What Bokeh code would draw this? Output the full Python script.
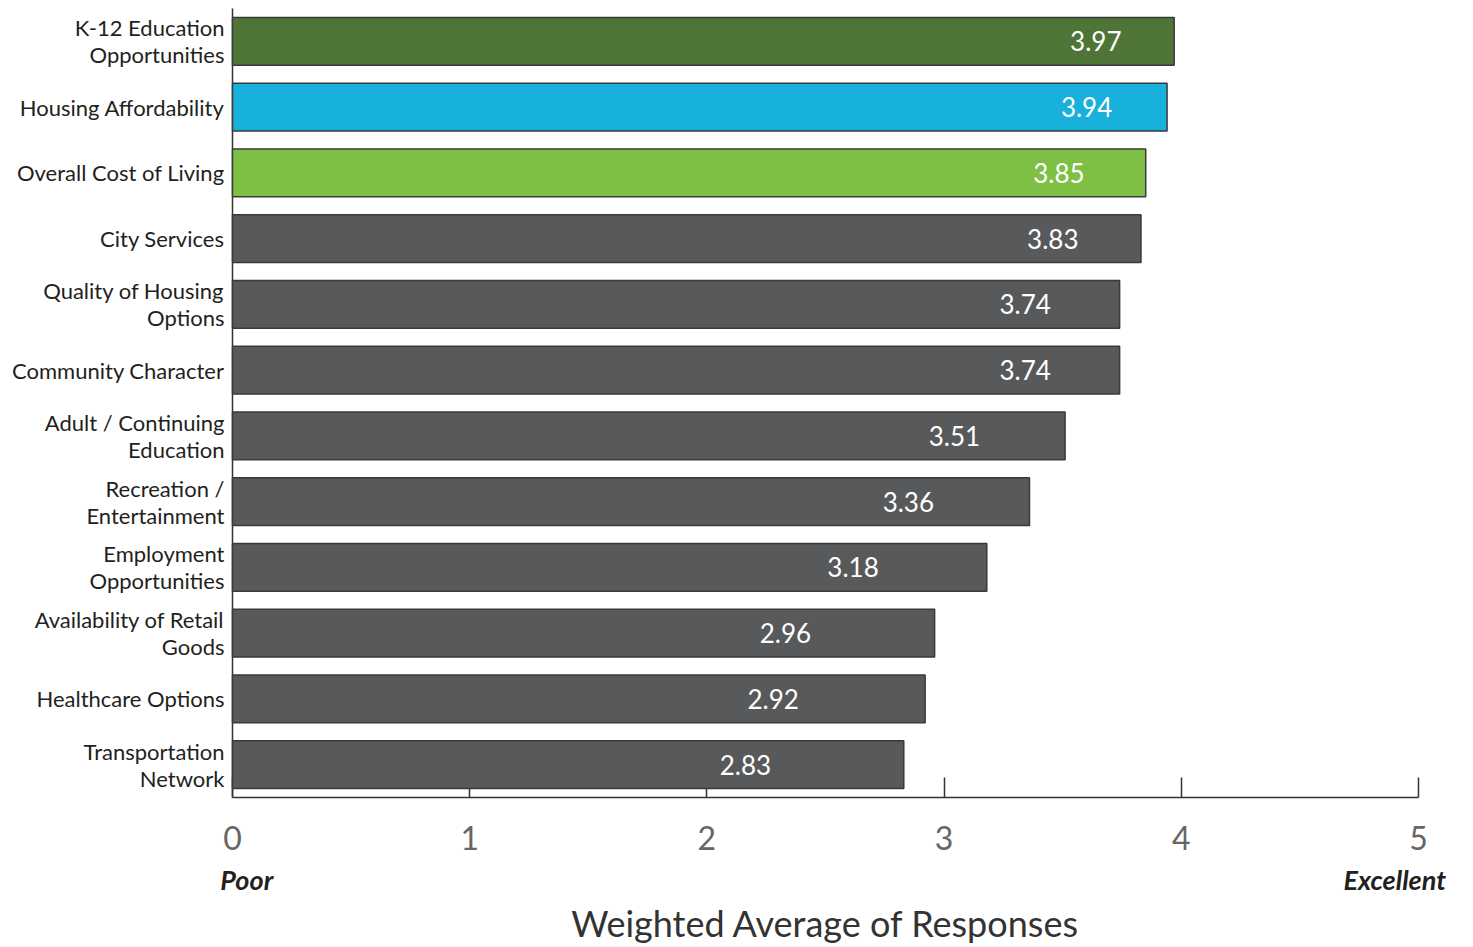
from bokeh.plotting import figure
from bokeh.models import FactorRange, Range1d, FixedTicker, LinearAxis, ColumnDataSource
from bokeh.embed import file_html
from bokeh.resources import INLINE
from bokeh.core.properties import value

categories = [
    "K-12 Education\nOpportunities",
    "Housing Affordability",
    "Overall Cost of Living",
    "City Services",
    "Quality of Housing\nOptions",
    "Community Character",
    "Adult / Continuing\nEducation",
    "Recreation /\nEntertainment",
    "Employment\nOpportunities",
    "Availability of Retail\nGoods",
    "Healthcare Options",
    "Transportation\nNetwork",
]
scores = [3.97, 3.94, 3.85, 3.83, 3.74, 3.74, 3.51, 3.36, 3.18, 2.96, 2.92, 2.83]
bar_colors = ["#4E7436", "#17B1DB", "#7DC043"] + ["#58595B"] * 9
x_ticks = [0, 1, 2, 3, 4, 5]
scale_low = "Poor"
scale_high = "Excellent"
axis_title = "Weighted Average of Responses"

# label placement inside the bar (styling offset)
label_x = [1.2956 * v - 1.504 for v in scores]
label_txt = [f"{v:.2f}" for v in scores]

src = ColumnDataSource(dict(cat=categories, val=scores, col=bar_colors,
                            lx=label_x, lt=label_txt))

p = figure(width=1465, height=947, output_backend="svg", toolbar_location=None,
           y_range=FactorRange(factors=list(reversed(categories)), range_padding=0),
           x_range=Range1d(0, 5),
           min_border_left=232, min_border_right=47, min_border_top=8,
           min_border_bottom=150)
p.outline_line_color = None
p.xgrid.visible = False
p.ygrid.visible = False
p.background_fill_color = "white"
p.border_fill_color = "white"

bars = p.hbar(y="cat", left=0, right="val", height=0.73, source=src,
              fill_color="col", line_color="#3a3a3a", line_width=1.5)
bars.level = "overlay"

txt = p.text(x="lx", y="cat", text="lt", source=src, text_align="center",
             text_baseline="middle", text_color="white", text_font=value("Lato"),
             text_font_size="26px", y_offset=0)
txt.level = "overlay"

xa = p.xaxis[0]
xa.ticker = FixedTicker(ticks=x_ticks)
xa.major_tick_in = 20
xa.major_tick_out = 0
xa.minor_tick_line_color = None
xa.axis_line_color = "#333333"
xa.axis_line_width = 1.5
xa.major_tick_line_color = "#333333"
xa.major_tick_line_width = 1.5
xa.major_label_standoff = 28
xa.major_label_text_font = "Lato"
xa.major_label_text_font_size = "32px"
xa.major_label_text_color = "#666666"
xa.major_label_text_line_height = 1.0

# second axis carrying the scale words and the axis title
xb = LinearAxis(ticker=FixedTicker(ticks=[0.06, 4.9]),
                major_label_overrides={0.06: scale_low, 4.9: scale_high})
xb.axis_line_color = None
xb.major_tick_line_color = None
xb.minor_tick_line_color = None
xb.major_tick_in = 0
xb.major_tick_out = 0
xb.major_label_standoff = 10
xb.major_label_text_font = "Lato"
xb.major_label_text_font_style = "bold italic"
xb.major_label_text_font_size = "27px"
xb.major_label_text_color = "#231f20"
xb.major_label_text_line_height = 1.0
xb.axis_label = axis_title
xb.axis_label_standoff = 2
xb.axis_label_text_font = "Lato"
xb.axis_label_text_font_style = "normal"
xb.axis_label_text_font_size = "36px"
xb.axis_label_text_color = "#333333"
xb.axis_label_text_line_height = 1.0
p.add_layout(xb, "below")

ya = p.yaxis[0]
ya.major_tick_line_color = None
ya.minor_tick_line_color = None
ya.axis_line_color = "#333333"
ya.axis_line_width = 1.5
ya.major_label_standoff = 2
ya.major_label_text_font = "Lato"
ya.major_label_text_font_size = "22px"
ya.major_label_text_color = "#231f20"
ya.major_label_text_line_height = 1.0

open("out.html", "w").write(file_html(p, INLINE))
